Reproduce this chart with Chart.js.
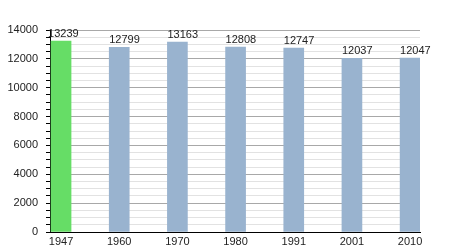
<!DOCTYPE html>
<html>
<head>
<meta charset="utf-8">
<script src="https://cdn.jsdelivr.net/npm/chart.js@4/dist/chart.umd.min.js"></script>
<style>
  html, body { margin: 0; padding: 0; background: #fff; }
</style>
</head>
<body>
<canvas id="popChart" width="450" height="250"></canvas>
<script>
// population par année
const years = ["1947", "1960", "1970", "1980", "1991", "2001", "2010"];
const population = [13239, 12799, 13163, 12808, 12747, 12037, 12047];
const barColors = ["#66dd66", "#99b3cf", "#99b3cf", "#99b3cf", "#99b3cf", "#99b3cf", "#99b3cf"];

Chart.defaults.font.family = "'Liberation Sans', Arial, sans-serif";
Chart.defaults.font.size = 11;
Chart.defaults.color = "#222";

// valeurs au-dessus des barres
const valueLabels = {
    id: "valueLabels",
    afterDatasetsDraw(chart) {
        const ctx = chart.ctx;
        const meta = chart.getDatasetMeta(0);
        ctx.save();
        ctx.font = "11px 'Liberation Sans', Arial, sans-serif";
        ctx.fillStyle = "#222";
        ctx.textAlign = "left";
        ctx.textBaseline = "alphabetic";
        meta.data.forEach((bar, i) => {
            const dx = i === 0 ? -13 : -10;
            ctx.fillText(String(population[i]), bar.x + dx, bar.y - 4);
        });
        ctx.restore();
    }
};

const popChart = new Chart(document.getElementById("popChart"), {
    type: "bar",
    data: {
        datasets: [
            {
                data: population.map((v, i) => ({ x: i, y: v })),
                backgroundColor: barColors,
                borderWidth: 0,
                barThickness: 20,
            },
        ],
    },
    options: {
        responsive: false,
        animation: false,
        devicePixelRatio: 1,
        layout: { padding: { top: 30, right: 30, left: 0, bottom: 0 } },
        plugins: {
            legend: { display: false },
            tooltip: { enabled: false },
        },
        scales: {
            x: {
                type: "linear",
                offset: false,
                min: -0.19,
                max: 6.17,
                afterBuildTicks: (s) => { s.ticks = years.map((_, i) => ({ value: i })); },
                afterFit: (s) => { s.height = 18; },
                ticks: {
                    padding: 3,
                    autoSkip: false,
                    maxRotation: 0,
                    callback: (v) => years[v],
                },
                grid: { display: false, drawTicks: false },
                border: { display: true, color: "#000", width: 1 },
            },
            y: {
                min: 0,
                max: 14000,
                afterFit: (s) => { s.width = 50; },
                ticks: {
                    stepSize: 500,
                    padding: 8,
                    autoSkip: false,
                    callback: (v) => (v % 2000 === 0 ? v : ""),
                },
                grid: {
                    color: (c) => (c.tick && c.tick.value % 2000 === 0 ? "#a8a8a8" : "#e2e2e2"),
                    tickColor: "#000",
                    tickLength: 4,
                },
                border: { display: true, color: "#000", width: 1 },
            },
        },
    },
    plugins: [valueLabels],
});
</script>
</body>
</html>
